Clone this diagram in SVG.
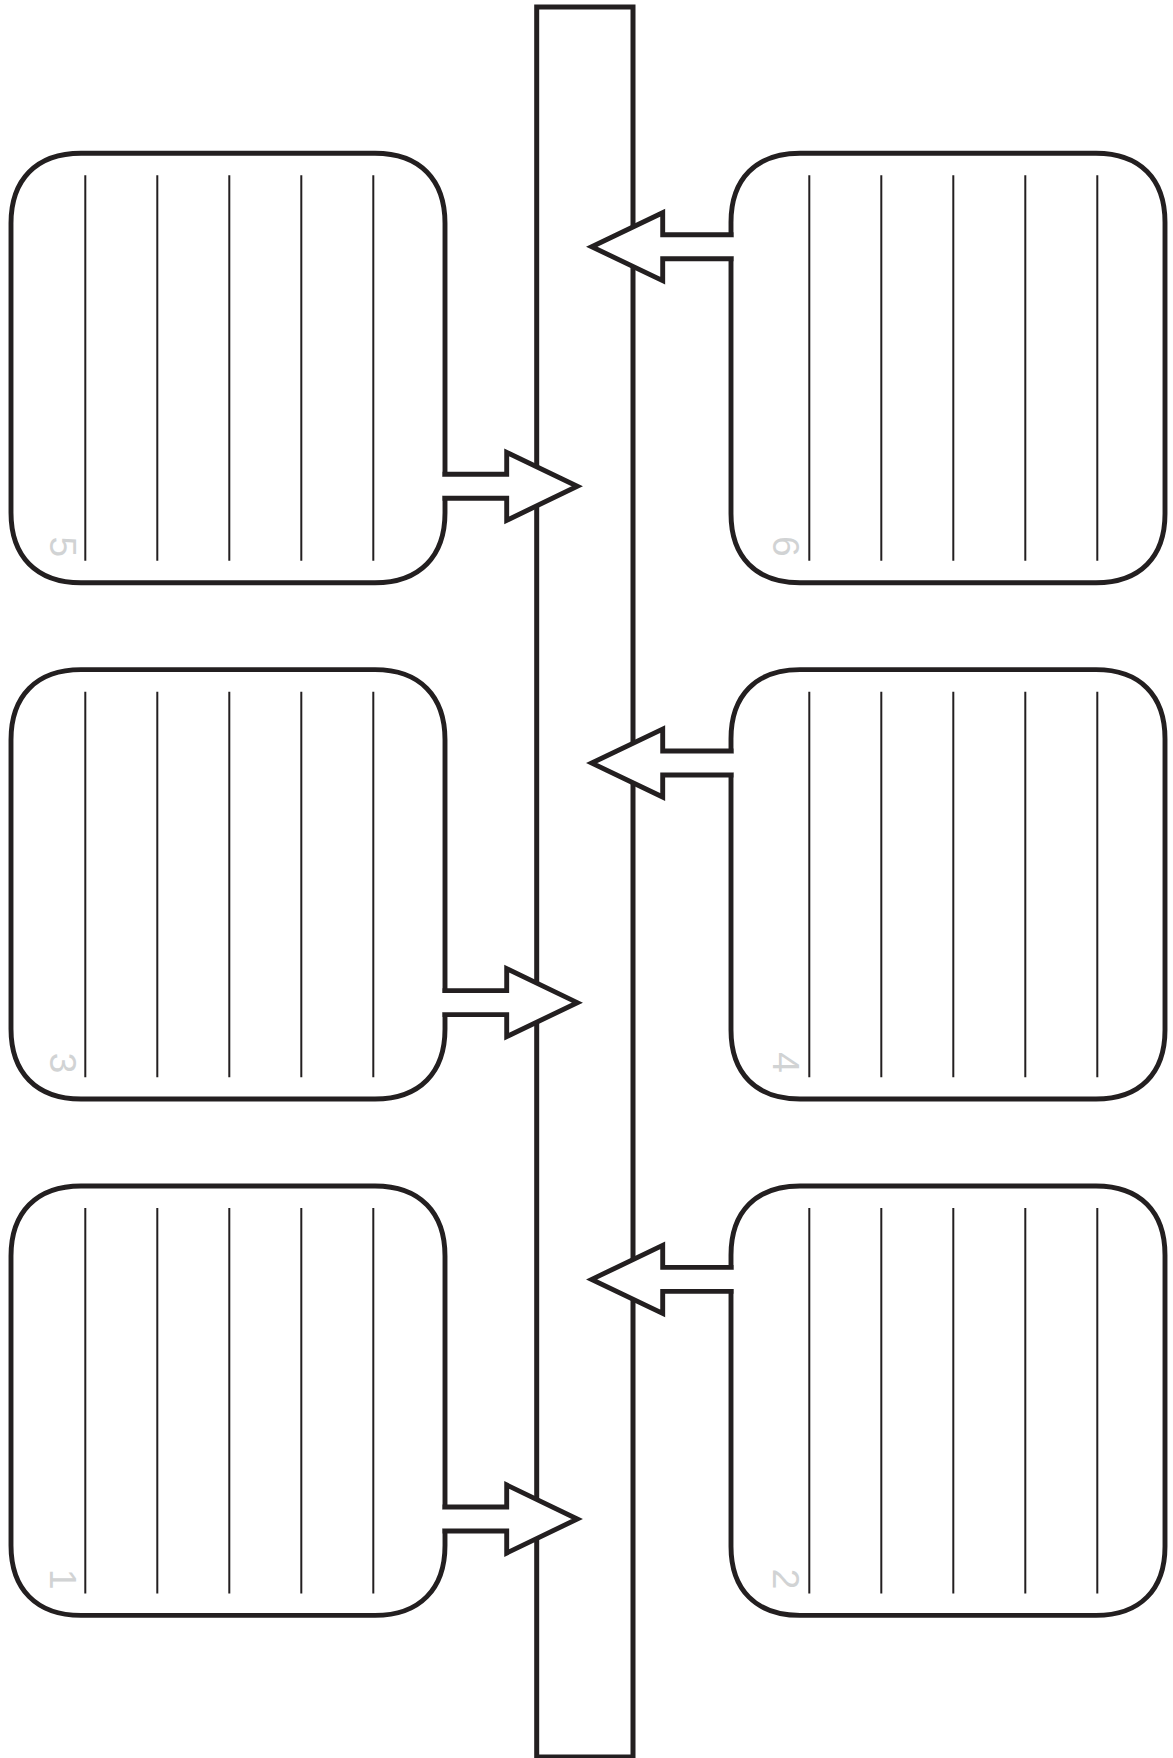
<svg xmlns="http://www.w3.org/2000/svg" width="1173" height="1758" viewBox="0 0 1173 1758">
<style>
.bg{fill:#ffffff}
.bar{fill:#ffffff;stroke:#231f20;stroke-width:5}
.box{fill:none;stroke:#231f20;stroke-width:4.9;stroke-linecap:square;stroke-linejoin:miter}
.rule{stroke:#231f20;stroke-width:2}
.arrfill{fill:#ffffff;stroke:none}
.arr{fill:none;stroke:#231f20;stroke-width:4.9;stroke-linecap:square;stroke-linejoin:miter;stroke-miterlimit:6}
.num{font-family:"Liberation Sans",Arial,sans-serif;font-size:37px;fill:#d1d3d4;text-anchor:middle}
</style>
<defs>
<g id="leftBox">
<path class="box" d="M445,498.3 V512.7 C445,556 420,582.7 375,582.7 H81 C36,582.7 11,556 11,512.7 V223.3 C11,180 36,153.3 81,153.3 H375 C420,153.3 445,180 445,223.3 V474.3"/>
<line class="rule" x1="85.3" y1="175.3" x2="85.3" y2="560.8"/>
<line class="rule" x1="157.3" y1="175.3" x2="157.3" y2="560.8"/>
<line class="rule" x1="229.3" y1="175.3" x2="229.3" y2="560.8"/>
<line class="rule" x1="301.3" y1="175.3" x2="301.3" y2="560.8"/>
<line class="rule" x1="373.3" y1="175.3" x2="373.3" y2="560.8"/>
</g>
<g id="rightBox">
<path class="box" d="M731,234.7 V222.3 C731,179 756,153.3 800,153.3 H1096 C1140,153.3 1165,179 1165,222.3 V513.7 C1165,557 1140,582.7 1096,582.7 H800 C756,582.7 731,557 731,513.7 V258.7"/>
<line class="rule" x1="809.3" y1="175.3" x2="809.3" y2="560.8"/>
<line class="rule" x1="881.3" y1="175.3" x2="881.3" y2="560.8"/>
<line class="rule" x1="953.3" y1="175.3" x2="953.3" y2="560.8"/>
<line class="rule" x1="1025.3" y1="175.3" x2="1025.3" y2="560.8"/>
<line class="rule" x1="1097.3" y1="175.3" x2="1097.3" y2="560.8"/>
</g>
<g id="rightArrow">
<polygon class="arrfill" points="443,474.3 506.7,474.3 506.7,452.3 577.3,486.3 506.7,520.3 506.7,498.3 443,498.3"/>
<path class="arr" d="M445,474.3 H506.7 V452.3 L577.3,486.3 L506.7,520.3 V498.3 H445"/>
</g>
<g id="leftArrow">
<polygon class="arrfill" points="733,234.7 662.7,234.7 662.7,212.7 591.7,246.7 662.7,280.7 662.7,258.7 733,258.7"/>
<path class="arr" d="M731,234.7 H662.7 V212.7 L591.7,246.7 L662.7,280.7 V258.7 H731"/>
</g>
</defs>
<rect class="bg" x="0" y="0" width="1173" height="1758"/>
<g id="timeline">
<rect class="bar" x="536.7" y="7" width="96.3" height="1750"/>
</g>
<g id="node-5">
<use href="#leftBox"/>
<text class="num" transform="translate(50,546.7) rotate(90)">5</text>
</g>
<g id="node-6">
<use href="#rightBox"/>
<text class="num" transform="translate(773.3,546.3) rotate(90)">6</text>
</g>
<g id="node-3" transform="translate(0,516.35)">
<use href="#leftBox"/>
<text class="num" transform="translate(50,546.7) rotate(90)">3</text>
</g>
<g id="node-4" transform="translate(0,516.35)">
<use href="#rightBox"/>
<text class="num" transform="translate(773.3,546.3) rotate(90)">4</text>
</g>
<g id="node-1" transform="translate(0,1032.7)">
<use href="#leftBox"/>
<text class="num" transform="translate(50,546.7) rotate(90)">1</text>
</g>
<g id="node-2" transform="translate(0,1032.7)">
<use href="#rightBox"/>
<text class="num" transform="translate(773.3,546.3) rotate(90)">2</text>
</g>
<g id="connectors">
<use href="#rightArrow"/>
<use href="#leftArrow"/>
<use href="#rightArrow" transform="translate(0,516.35)"/>
<use href="#leftArrow" transform="translate(0,516.35)"/>
<use href="#rightArrow" transform="translate(0,1032.7)"/>
<use href="#leftArrow" transform="translate(0,1032.7)"/>
</g>
</svg>
